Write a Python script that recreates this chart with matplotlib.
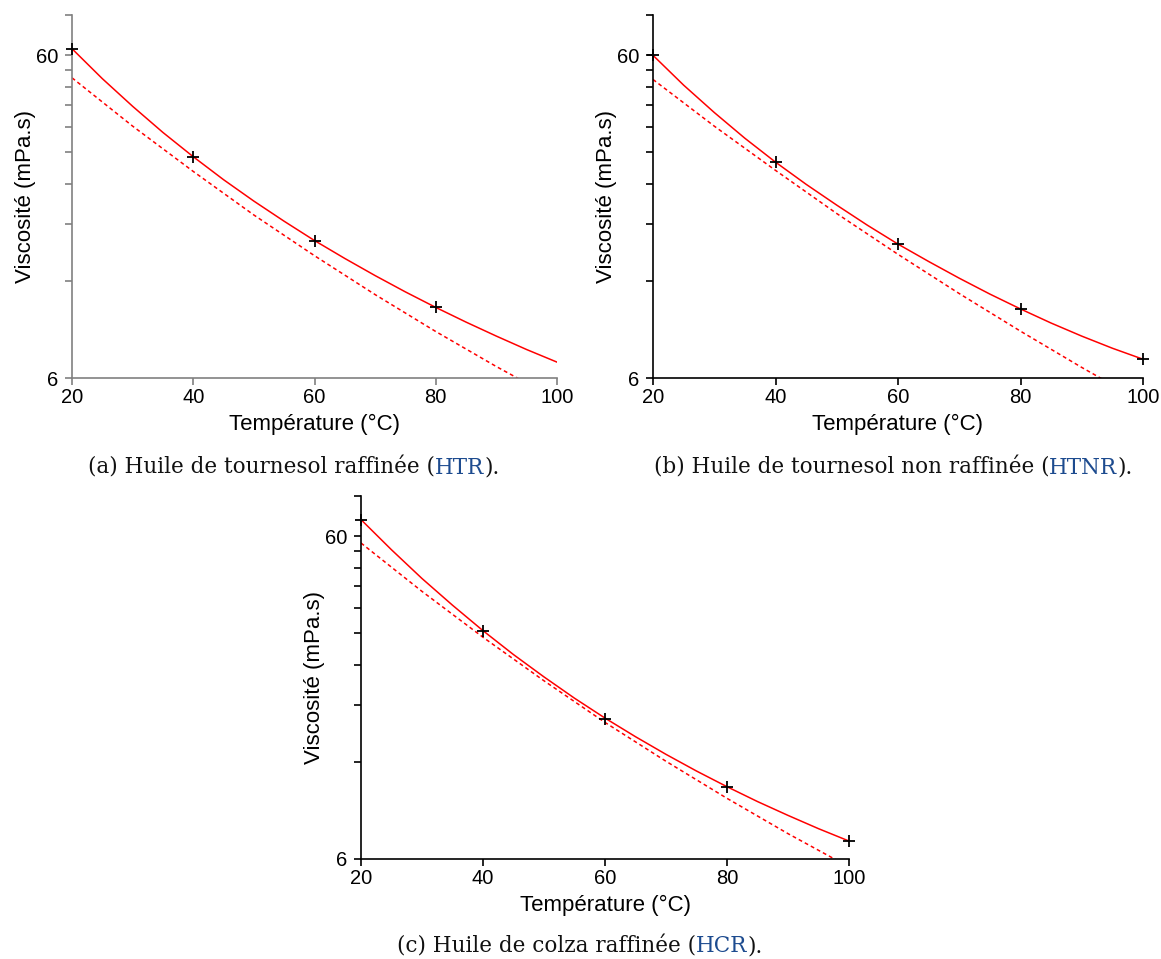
import matplotlib
matplotlib.use("Agg")
import matplotlib.pyplot as plt
from matplotlib.ticker import FixedLocator, NullFormatter

fit_temps = [20, 25, 30, 35, 40, 45, 50, 55, 60, 65, 70, 75, 80, 85, 90, 95, 100]
model_temps = [20, 30, 40, 50, 60, 70, 80, 90, 100]

# (a) HTR
htr_pts_t = [20, 40, 60, 80]
htr_pts_v = [62.9, 29.1, 16.0, 9.93]
htr_fit = [62.9, 50.8, 41.7, 34.6, 29.1, 24.7, 21.2, 18.36, 16.0,
           14.08, 12.46, 11.09, 9.93, 8.94, 8.09, 7.35, 6.72]
htr_model = [51.1, 36.2, 26.2, 19.2, 14.36, 10.88, 8.36, 6.51, 5.14]

# (b) HTNR
htnr_pts_t = [20, 40, 60, 80, 100]
htnr_pts_v = [60.0, 28.0, 15.6, 9.82, 6.86]
htnr_fit = [60.0, 48.5, 39.9, 33.2, 28.0, 23.9, 20.6, 17.85, 15.6,
            13.78, 12.23, 10.92, 9.82, 8.88, 8.09, 7.42, 6.86]
htnr_model = [50.5, 36.2, 26.4, 19.4, 14.5, 10.96, 8.38, 6.47, 5.05]

# (c) HCR
hcr_pts_t = [20, 40, 60, 80, 100]
hcr_pts_v = [67.6, 30.6, 16.3, 10.05, 6.82]
hcr_fit = [67.6, 54.5, 44.4, 36.7, 30.6, 25.8, 22.0, 18.9, 16.4,
           14.36, 12.66, 11.24, 10.05, 9.04, 8.19, 7.45, 6.82]
hcr_model = [57.2, 40.5, 29.2, 21.4, 15.9, 12.05, 9.25, 7.19, 5.67]

x_ticks = [20, 40, 60, 80, 100]
y_major = [6, 60]
y_minor = [12, 18, 24, 30, 36, 42, 48, 54, 80]

W, H = 1161, 959
fig = plt.figure(figsize=(W / 100, H / 100), dpi=100)

sans = ['Liberation Sans', 'DejaVu Sans']
serif = ['DejaVu Serif']


def make_panel(rect, pts_t, pts_v, fit, model, spine_col):
    ax = fig.add_axes(rect)
    ax.set_yscale('log')
    ax.plot(fit_temps, fit, color='#ff0000', lw=1.1)
    ax.plot(model_temps, model, color='#ff0000', lw=1.1, ls=(0, (2.5, 2)))
    ax.plot(pts_t, pts_v, ls='none', marker='+', color='black', ms=8.5, mew=1.3, clip_on=False, zorder=5)
    ax.set_xlim(20, 100)
    ax.set_ylim(6, 80)
    ax.set_xticks(x_ticks)
    ax.yaxis.set_major_locator(FixedLocator(y_major))
    ax.set_yticklabels([str(v) for v in y_major])
    ax.yaxis.set_minor_locator(FixedLocator(y_minor))
    ax.yaxis.set_minor_formatter(NullFormatter())
    for s in ['top', 'right']:
        ax.spines[s].set_visible(False)
    for s in ['left', 'bottom']:
        ax.spines[s].set_color(spine_col)
        ax.spines[s].set_linewidth(1.2)
    ax.tick_params(which='both', direction='out', length=5, width=1.2, color=spine_col, labelsize=14.5)
    ax.tick_params(axis='x', pad=2)
    ax.tick_params(axis='y', pad=5)
    for lab in ax.get_xticklabels() + ax.get_yticklabels():
        lab.set_family(sans)
    ax.set_xlabel('Température (°C)', family=sans, fontsize=16, labelpad=5)
    ax.set_ylabel('Viscosité (mPa.s)', family=sans, fontsize=16, labelpad=0)
    return ax


def caption(xc, yc, parts):
    # parts: list of (text, colour); drawn side by side and centred on xc (pixels)
    r = fig.canvas.get_renderer()
    texts = []
    widths = []
    for txt, col in parts:
        t = fig.text(0, yc / H, txt, color=col, family=serif, fontsize=15.5, va='center', ha='left')
        widths.append(t.get_window_extent(renderer=r).width)
        texts.append(t)
    x = xc - sum(widths) / 2
    for t, w in zip(texts, widths):
        t.set_x(x / W)
        x += w


link = '#1d4b8f'

make_panel([72 / W, 1 - 378 / H, 485 / W, 363 / H], htr_pts_t, htr_pts_v, htr_fit, htr_model, '#808080')
make_panel([653 / W, 1 - 378 / H, 490 / W, 363 / H], htnr_pts_t, htnr_pts_v, htnr_fit, htnr_model, 'black')
make_panel([361 / W, 1 - 859 / H, 488 / W, 363 / H], hcr_pts_t, hcr_pts_v, hcr_fit, hcr_model, 'black')

fig.canvas.draw()
caption(294, H - 468, [('(a) Huile de tournesol raffinée (', '#111111'), ('HTR', link), (').', '#111111')])
caption(893, H - 468, [('(b) Huile de tournesol non raffinée (', '#111111'), ('HTNR', link), (').', '#111111')])
caption(580, H - 946, [('(c) Huile de colza raffinée (', '#111111'), ('HCR', link), (').', '#111111')])

fig.savefig('out.png', dpi=100)
